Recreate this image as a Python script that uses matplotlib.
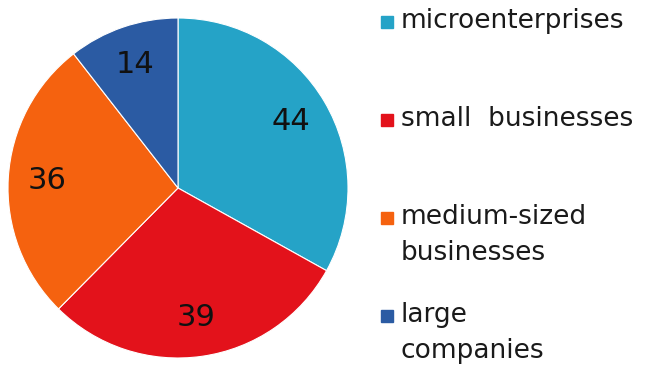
import matplotlib.pyplot as plt
from matplotlib.patches import Rectangle

# company size shares
labels = ['microenterprises', 'small  businesses', 'medium-sized\nbusinesses', 'large\ncompanies']
values = [44, 39, 36, 14]
colors = ['#25A3C7', '#E3121B', '#F5620F', '#2B5BA3']

fig = plt.figure(figsize=(6.46, 3.75), dpi=100)
ax = fig.add_axes([8 / 646, 17 / 375, 340 / 646, 340 / 375])

wedges, texts = ax.pie(values, colors=colors, startangle=90, counterclock=False,
                       labels=[str(v) for v in values], labeldistance=0.77,
                       wedgeprops=dict(edgecolor='white', linewidth=0.8))
for t in texts:
    t.set_ha('center')
    t.set_va('center')
    t.set_fontsize(22)
    t.set_color('#111111')
ax.set_xlim(-1, 1)
ax.set_ylim(-1, 1)
ax.set_aspect('equal')

# legend drawn by hand so each entry starts on the same pitch
top_y = [22, 120, 218, 316]
for lab, col, y in zip(labels, colors, top_y):
    yf = 1 - y / 375
    fig.patches.append(Rectangle((381 / 646, yf - 6 / 375), 12 / 646, 12 / 375,
                                 transform=fig.transFigure, color=col))
    fig.text(401 / 646, yf + 14 / 375, lab, fontsize=19, va='top', ha='left',
             color='#1a1a1a', linespacing=1.5)

fig.savefig('out.png', dpi=100)
